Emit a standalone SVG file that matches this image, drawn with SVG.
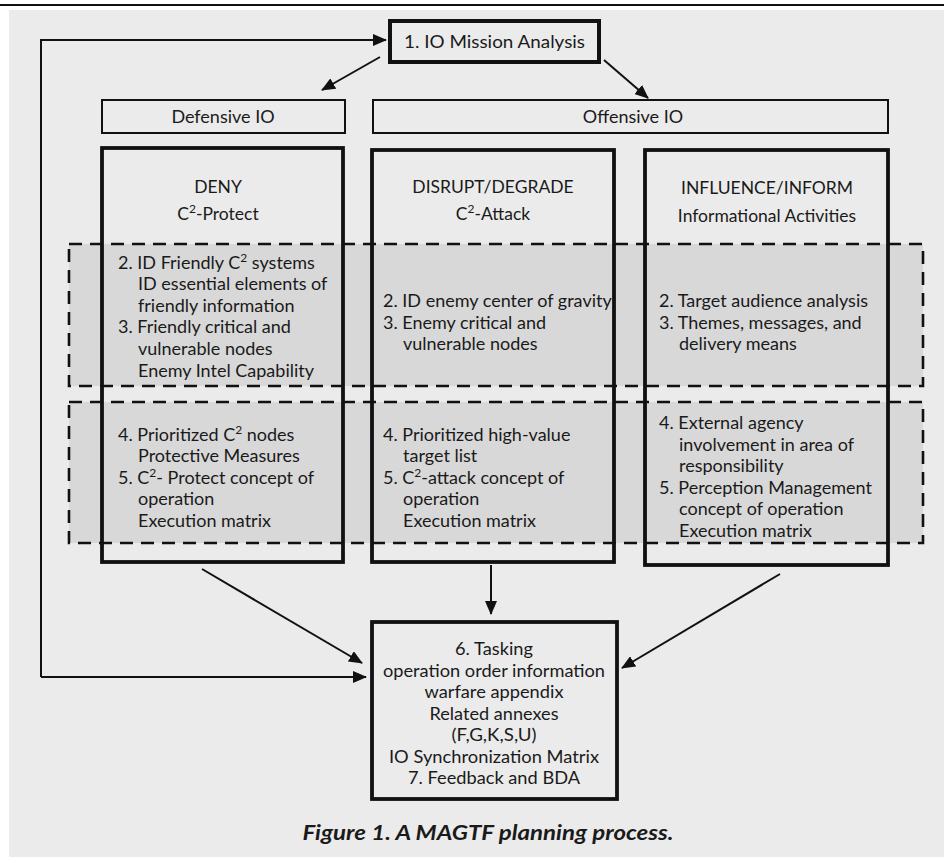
<svg xmlns="http://www.w3.org/2000/svg" width="944" height="857" viewBox="0 0 944 857">
<defs>
<marker id="ah" markerWidth="14" markerHeight="12" refX="13" refY="6" orient="auto" markerUnits="userSpaceOnUse">
<path d="M0,0 L14,6 L0,12 z" fill="#111"/>
</marker>
<style>
.t{font-family:Lato,"Open Sans","Liberation Sans",sans-serif;font-size:18px;fill:#1a1a1a}
.h{font-size:17.5px}
.c{text-anchor:middle}
.cond{font-family:Lato,"Liberation Sans",sans-serif;font-size:18px;fill:#1a1a1a;text-anchor:middle}
.col{fill:none;stroke:#111;stroke-width:3.8}
.dash{fill:#d8d8d8;stroke:#111;stroke-width:2.6;stroke-dasharray:13,8}
.thin{fill:none;stroke:#111;stroke-width:2}
.conn{fill:none;stroke:#111;stroke-width:2;marker-end:url(#ah)}
.sup{font-size:12px}
</style>
</defs>
<rect x="0" y="0" width="944" height="857" fill="#fff"/>
<rect x="9" y="10" width="935" height="847" fill="#ebebeb"/>
<line x1="0" y1="5" x2="944" y2="5" stroke="#111" stroke-width="2"/>

<g id="rows">
<rect class="dash" x="69" y="244" width="854" height="142"/>
<rect class="dash" x="69" y="402" width="854" height="141"/>
</g>

<g id="mission">
<rect x="390" y="21" width="209" height="41" fill="none" stroke="#111" stroke-width="4"/>
<text class="t c" x="494.5" y="48" textLength="181" lengthAdjust="spacingAndGlyphs">1. IO Mission Analysis</text>
</g>

<g id="defensive">
<rect class="thin" x="102" y="100" width="243" height="33"/>
<text class="t c" x="223" y="123">Defensive IO</text>
</g>

<g id="offensive">
<rect class="thin" x="373" y="100" width="515" height="33"/>
<text class="t c" x="633" y="123">Offensive IO</text>
</g>

<g id="deny">
<rect class="col" x="102" y="148" width="241" height="414"/>
<text class="t h c" x="218" y="193">DENY</text>
<text class="t h c" x="218" y="220">C<tspan class="sup" dy="-7">2</tspan><tspan dy="7">-Protect</tspan></text>
<text class="t" x="118" y="269">2. ID Friendly C<tspan class="sup" dy="-7">2</tspan><tspan dy="7"> systems</tspan></text>
<text class="t" x="138" y="290">ID essential elements of</text>
<text class="t" x="138" y="312">friendly information</text>
<text class="t" x="118" y="333">3. Friendly critical and</text>
<text class="t" x="138" y="355">vulnerable nodes</text>
<text class="t" x="138" y="377">Enemy Intel Capability</text>
<text class="t" x="118" y="441">4. Prioritized C<tspan class="sup" dy="-7">2</tspan><tspan dy="7"> nodes</tspan></text>
<text class="t" x="138" y="462">Protective Measures</text>
<text class="t" x="118" y="484">5. C<tspan class="sup" dy="-7">2</tspan><tspan dy="7">- Protect concept of</tspan></text>
<text class="t" x="138" y="505">operation</text>
<text class="t" x="138" y="527">Execution matrix</text>
</g>

<g id="disrupt">
<rect class="col" x="372" y="150" width="242" height="412"/>
<text class="t h c" x="493" y="193">DISRUPT/DEGRADE</text>
<text class="t h c" x="493" y="220">C<tspan class="sup" dy="-7">2</tspan><tspan dy="7">-Attack</tspan></text>
<text class="t" x="383" y="307">2. ID enemy center of gravity</text>
<text class="t" x="383" y="329">3. Enemy critical and</text>
<text class="t" x="403" y="350">vulnerable nodes</text>
<text class="t" x="383" y="441">4. Prioritized high-value</text>
<text class="t" x="403" y="462">target list</text>
<text class="t" x="383" y="484">5. C<tspan class="sup" dy="-7">2</tspan><tspan dy="7">-attack concept of</tspan></text>
<text class="t" x="403" y="505">operation</text>
<text class="t" x="403" y="527">Execution matrix</text>
</g>

<g id="influence">
<rect class="col" x="645" y="150" width="243" height="415"/>
<text class="t h c" x="767" y="194">INFLUENCE/INFORM</text>
<text class="t h c" x="767" y="222">Informational Activities</text>
<text class="t" x="659" y="307">2. Target audience analysis</text>
<text class="t" x="659" y="329">3. Themes, messages, and</text>
<text class="t" x="679" y="350">delivery means</text>
<text class="t" x="659" y="429">4. External agency</text>
<text class="t" x="679" y="451">involvement in area of</text>
<text class="t" x="679" y="472">responsibility</text>
<text class="t" x="659" y="494">5. Perception Management</text>
<text class="t" x="679" y="515">concept of operation</text>
<text class="t" x="679" y="537">Execution matrix</text>
</g>

<g id="tasking">
<rect x="372" y="622" width="245" height="177" fill="none" stroke="#111" stroke-width="3.8"/>
<text class="cond" x="494" y="655" textLength="78" lengthAdjust="spacingAndGlyphs">6. Tasking</text>
<text class="cond" x="494" y="677" textLength="222" lengthAdjust="spacingAndGlyphs">operation order information</text>
<text class="cond" x="494" y="698" textLength="139" lengthAdjust="spacingAndGlyphs">warfare appendix</text>
<text class="cond" x="494" y="720" textLength="129" lengthAdjust="spacingAndGlyphs">Related annexes</text>
<text class="cond" x="494" y="741" textLength="85" lengthAdjust="spacingAndGlyphs">(F,G,K,S,U)</text>
<text class="cond" x="494" y="763" textLength="210" lengthAdjust="spacingAndGlyphs">IO Synchronization Matrix</text>
<text class="cond" x="494" y="784" textLength="172" lengthAdjust="spacingAndGlyphs">7. Feedback and BDA</text>
</g>

<g id="connectors">
<line class="conn" x1="380" y1="57" x2="322" y2="90"/>
<line class="conn" x1="604" y1="60" x2="648" y2="98"/>
<polyline class="conn" points="41,677 41,40 386,40"/>
<line class="conn" x1="41" y1="677" x2="366" y2="677"/>
<line class="conn" x1="202" y1="569" x2="362" y2="663"/>
<line class="conn" x1="491" y1="565" x2="491" y2="614"/>
<line class="conn" x1="780" y1="574" x2="622" y2="668"/>
</g>

<text x="488" y="840" font-family="Lato,'Open Sans','Liberation Sans',sans-serif" font-size="20" font-weight="bold" font-style="italic" text-anchor="middle" fill="#1a1a1a" textLength="371" lengthAdjust="spacingAndGlyphs">Figure 1. A MAGTF planning process.</text>
</svg>
